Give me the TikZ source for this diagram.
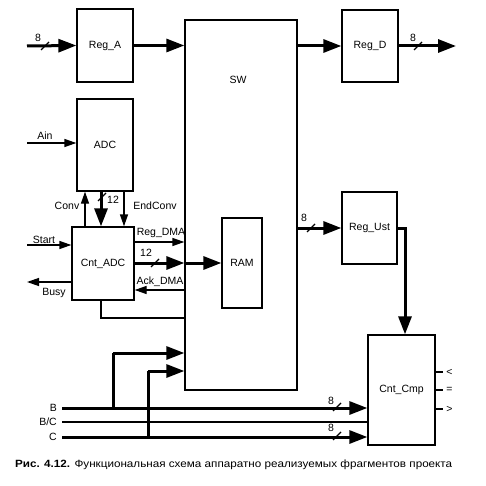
\documentclass[tikz,border=0pt]{standalone}
\usepackage{fontspec}
\usepackage{graphicx}
\setmainfont{Liberation Sans}
\usetikzlibrary{arrows.meta}
\begin{document}
\begin{tikzpicture}[x=1pt,y=-1pt,
  font=\fontsize{10.5}{12}\selectfont,
  blk/.style={draw,line width=1.3pt,inner sep=0pt},
  bus/.style={line width=3pt,-{Triangle[length=18pt,width=13pt]}},
  busline/.style={line width=3pt},
  sig/.style={line width=1.3pt,-{Triangle[length=12pt,width=8pt]}},
  plain/.style={line width=1.3pt},
  lbl/.style={inner sep=0pt},
  slash/.style={line width=1.2pt}]
\useasboundingbox (0,0) rectangle (486,486);
% blocks
\node[blk,minimum width=56pt,minimum height=73pt] (rega) at (105,45.5) {Reg\_A};
\node[blk,minimum width=56pt,minimum height=72pt] (regd) at (370,46) {Reg\_D};
\node[blk,minimum width=112pt,minimum height=370pt] (sw) at (241,205) {};
\node[lbl] (swl) at (238,80) {SW};
\node[blk,minimum width=56pt,minimum height=92pt] (adc) at (105,145) {ADC};
\node[blk,minimum width=62pt,minimum height=73pt] (cntadc) at (103,263.5) {Cnt\_ADC};
\node[blk,minimum width=40pt,minimum height=90pt] (ram) at (242,263) {RAM};
\node[blk,minimum width=55pt,minimum height=72pt] (regust) at (369.5,228) {Reg\_Ust};
\node[blk,minimum width=67pt,minimum height=110pt] (cntcmp) at (401.5,390) {Cnt\_Cmp};
% helper coordinates
\coordinate (inA) at (27,46);
\coordinate (outD) at (456,46);
\coordinate (ain) at (27,143);
\coordinate (xconv) at (85,0);
\coordinate (x12) at (101,0);
\coordinate (xend) at (124,0);
\coordinate (start) at (27,245);
\coordinate (busy) at (27,282);
\coordinate (yreq) at (0,242);
\coordinate (yack) at (0,290);
\coordinate (yfb) at (0,318);
\coordinate (xb) at (113,0);
\coordinate (xc) at (148,0);
\coordinate (ybr) at (0,353);
\coordinate (ycr) at (0,371);
\coordinate (bL) at (62,408);
\coordinate (bcL) at (62,422);
\coordinate (cL) at (62,437);
\coordinate (xr) at (405,0);
\coordinate (y1) at (0,372);
\coordinate (y2) at (0,390);
\coordinate (y3) at (0,409);
% top row
\draw[bus] (inA) -- (rega.west);
\draw[bus] (rega.east) -- (rega.east -| sw.west);
\draw[bus] (regd.west -| sw.east) -- (regd.west);
\draw[bus] (regd.east) -- (outD);
\draw[slash] (41,50) -- (49,42);
\node[lbl] (l8a) at (38,38) {8};
\draw[slash] (414,50) -- (422,42);
\node[lbl] (l8d) at (413,38) {8};
% ADC
\draw[sig] (ain) -- (adc.west |- ain);
\node[lbl] (lain) at (45,136) {Ain};
\draw[sig] (cntadc.north -| xconv) -- (adc.south -| xconv);
\node[lbl] (lconv) at (67,206) {Conv};
\draw[bus] (adc.south -| x12) -- (cntadc.north -| x12);
\draw[slash] (98,201) -- (106,193);
\node[lbl] (l12a) at (113,200) {12};
\draw[sig] (adc.south -| xend) -- (cntadc.north -| xend);
\node[lbl] (lend) at (155,206) {EndConv};
% Cnt_ADC
\draw[sig] (start) -- (cntadc.west |- start);
\node[lbl] (lstart) at (44,240) {Start};
\draw[sig] (cntadc.west |- busy) -- (busy);
\node[lbl] (lbusy) at (54,293) {Busy};
\draw[sig] (cntadc.east |- yreq) -- (sw.west |- yreq);
\node[lbl] (lreq) at (161,233) {Reg\_DMA};
\draw[bus] (cntadc.east |- ram.west) -- (sw.west |- ram.west);
\draw[bus] (sw.west |- ram.west) -- (ram.west);
\draw[slash] (151,267) -- (159,259);
\node[lbl] (l12b) at (146,253) {12};
\draw[sig] (sw.west |- yack) -- (cntadc.east |- yack);
\node[lbl] (lack) at (160,282) {Ack\_DMA};
\draw[plain] (cntadc.south -| x12) -- (x12 |- yfb) -- (sw.west |- yfb);
% Reg_Ust
\draw[bus] (sw.east |- regust.west) -- (regust.west);
\draw[slash] (307,232) -- (315,224);
\node[lbl] (l8u) at (304,218) {8};
\draw[bus] (regust.east) -- (xr |- regust.east) -- (cntcmp.north -| xr);
% bottom buses
\draw[busline] (xb |- bL) -- (xb |- ybr);
\draw[bus] (xb |- ybr) -- (sw.west |- ybr);
\draw[busline] (xc |- cL) -- (xc |- ycr);
\draw[bus] (xc |- ycr) -- (sw.west |- ycr);
\draw[bus] (bL) -- (cntcmp.west |- bL);
\draw[line width=2pt] (bcL) -- (cntcmp.west |- bcL);
\draw[bus] (cL) -- (cntcmp.west |- cL);
\node[lbl,anchor=east] (lb) at (57,408) {B};
\node[lbl,anchor=east] (lbc) at (57,422) {B/C};
\node[lbl,anchor=east] (lc) at (57,437) {C};
\draw[slash] (333,411) -- (341,403);
\node[lbl] (l8b) at (331,401) {8};
\draw[slash] (333,440) -- (341,432);
\node[lbl] (l8c) at (331,428) {8};
% outputs
\draw[plain] (cntcmp.east |- y1) -- ++(7,0) node[lbl,anchor=west,xshift=3pt] (olt) {<};
\draw[plain] (cntcmp.east |- y2) -- ++(7,0) node[lbl,anchor=west,xshift=3pt] (oeq) {=};
\draw[plain] (cntcmp.east |- y3) -- ++(7,0) node[lbl,anchor=west,xshift=3pt] (ogt) {>};
% caption
\node[anchor=west,inner sep=0pt,font=\fontsize{10.5}{12}\selectfont] (cap) at (15,465)
  {\resizebox{437pt}{\height}{\textbf{Рис. 4.12.} Функциональная схема аппаратно реализуемых фрагментов проекта}};
\end{tikzpicture}
\end{document}
